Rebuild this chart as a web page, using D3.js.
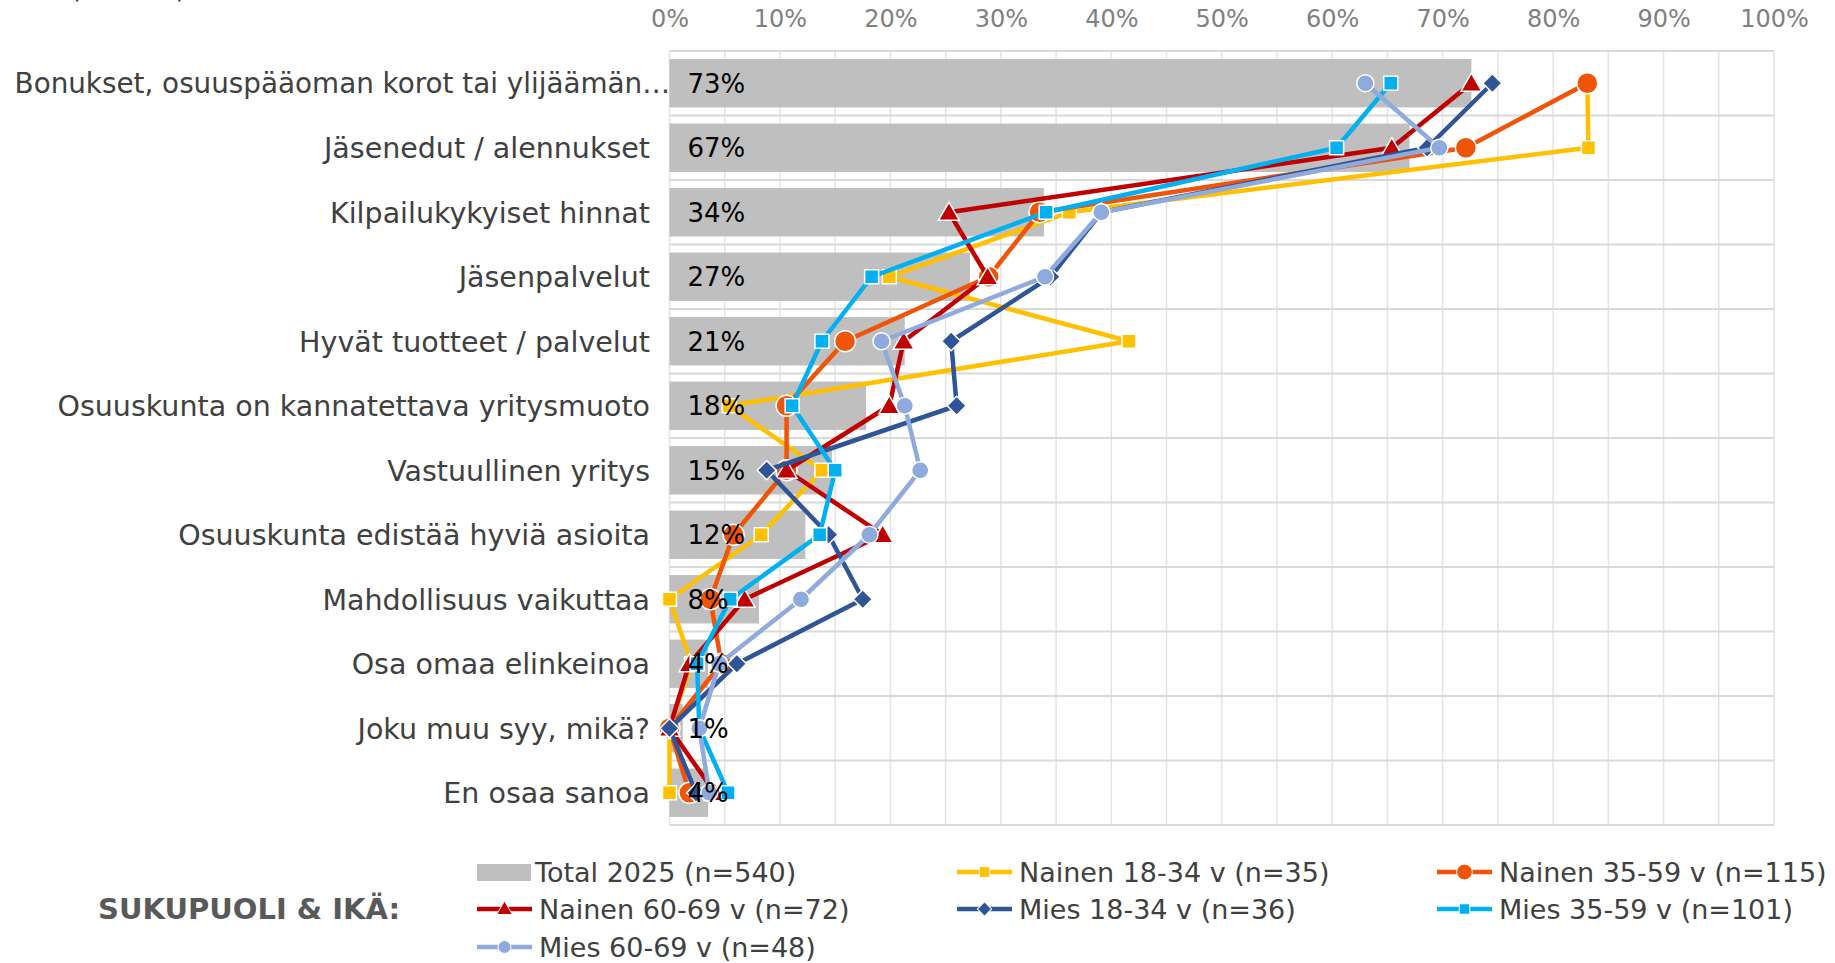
<!DOCTYPE html>
<html>
<head>
<meta charset="utf-8">
<script src="https://cdn.jsdelivr.net/npm/d3@7/dist/d3.min.js"></script>
<style>
body { margin: 0; background: #fff; }
svg { display: block; font-family: "DejaVu Sans", Verdana, sans-serif; }
</style>
</head>
<body>
<div id="chart"></div>
<script>
var categories = [
	"Bonukset, osuuspääoman korot tai ylijäämän…",
	"Jäsenedut / alennukset",
	"Kilpailukykyiset hinnat",
	"Jäsenpalvelut",
	"Hyvät tuotteet / palvelut",
	"Osuuskunta on kannatettava yritysmuoto",
	"Vastuullinen yritys",
	"Osuuskunta edistää hyviä asioita",
	"Mahdollisuus vaikuttaa",
	"Osa omaa elinkeinoa",
	"Joku muu syy, mikä?",
	"En osaa sanoa"
];
var total2025   = [72.6, 67.0, 33.9, 27.2, 21.3, 17.8, 14.7, 12.3, 8.1, 3.5, 1.2, 3.5];
var nainen1834  = [83.1, 83.2, 36.2, 19.9, 41.6, 5.4, 13.8, 8.3, 0, 2.0, 0, 0];
var nainen3559  = [83.1, 72.1, 33.5, 28.9, 15.9, 10.6, 10.6, 5.8, 3.7, 4.7, 0, 1.8];
var nainen6069  = [72.6, 65.4, 25.3, 28.8, 21.2, 19.9, 10.6, 19.3, 6.8, 1.8, 0, 4.1];
var mies1834    = [74.5, 68.6, 39.1, 34.5, 25.5, 26.0, 8.8, 14.4, 17.5, 6.1, 0, 2.4];
var mies3559    = [65.3, 60.4, 34.1, 18.3, 13.8, 11.1, 15.0, 13.6, 5.5, 2.5, 2.7, 5.3];
var mies6069    = [63.0, 69.7, 39.1, 34.0, 19.2, 21.3, 22.7, 18.1, 11.9, 4.5, 2.7, 3.6];
var xTicks = [0, 10, 20, 30, 40, 50, 60, 70, 80, 90, 100];
var totalName = "Total 2025 (n=540)";
var seriesNames = [
	"Nainen 18-34 v (n=35)",
	"Nainen 35-59 v (n=115)",
	"Nainen 60-69 v (n=72)",
	"Mies 18-34 v (n=36)",
	"Mies 35-59 v (n=101)",
	"Mies 60-69 v (n=48)"
];

var W = 1835, H = 963;
var plotLeft = 669.5, plotRight = 1774, plotTop = 51, plotBottom = 825;

var series = [
	{name: seriesNames[0], values: nainen1834, color: "#FFC000", shape: "square", size: 14},
	{name: seriesNames[1], values: nainen3559, color: "#F05408", shape: "circle", size: 10.5},
	{name: seriesNames[2], values: nainen6069, color: "#C00000", shape: "triangle", size: 21},
	{name: seriesNames[3], values: mies1834, color: "#2F5597", shape: "diamond", size: 13.5},
	{name: seriesNames[4], values: mies3559, color: "#00B0F0", shape: "square", size: 14},
	{name: seriesNames[5], values: mies6069, color: "#8FAADC", shape: "circle", size: 8.6}
];

var svg = d3.select("#chart").append("svg")
	.attr("width", W)
	.attr("height", H);

var x = d3.scaleLinear().domain([0, 100]).range([plotLeft, plotRight]);
var y = d3.scaleBand().domain(categories).range([plotTop, plotBottom])
	.paddingInner(0.25).paddingOuter(0.125);
var step = y.step();
function cy(c) { return y(c) + y.bandwidth() / 2; }

// cut off subtitle at the very top (only the bottoms show, as in the source)
svg.append("text")
	.attr("x", 70)
	.attr("y", -2)
	.style("font-size", "28px")
	.style("fill", "#404040")
	.text("(n=540)");

//vertical gridlines every 5 %
svg.append("g").selectAll("line")
	.data(d3.range(0, 101, 5))
	.enter().append("line")
	.attr("x1", function (d) { return x(d); })
	.attr("x2", function (d) { return x(d); })
	.attr("y1", plotTop)
	.attr("y2", plotBottom)
	.style("stroke", "#E3E3E3")
	.style("stroke-width", 1.5);

//horizontal gridlines between categories
svg.append("g").selectAll("line")
	.data(d3.range(0, categories.length + 1))
	.enter().append("line")
	.attr("x1", plotLeft)
	.attr("x2", plotRight)
	.attr("y1", function (i) { return plotTop + i * step; })
	.attr("y2", function (i) { return plotTop + i * step; })
	.style("stroke", "#D9D9D9")
	.style("stroke-width", 2);

//top axis
var xAxis = d3.axisTop(x)
	.tickValues(xTicks)
	.tickSize(0)
	.tickPadding(0)
	.tickFormat(function (d) { return d + "%"; });
var axisG = svg.append("g")
	.attr("transform", "translate(0,27)")
	.call(xAxis);
axisG.select(".domain").remove();
axisG.selectAll("text")
	.style("font-family", "DejaVu Sans, Verdana, sans-serif")
	.style("font-size", "24px")
	.style("fill", "#808080");

//category labels (the truncated one runs up to the bar)
svg.append("g").selectAll("text")
	.data(categories)
	.enter().append("text")
	.attr("x", function (d) { return d.slice(-1) == "…" ? 670 : 650; })
	.attr("y", function (d) { return cy(d); })
	.attr("dy", "0.36em")
	.attr("text-anchor", "end")
	.style("font-size", function (d) { return d.slice(-1) == "…" ? "27.8px" : "28.5px"; })
	.style("fill", "#404040")
	.text(function (d) { return d; });

//total bars
svg.append("g").selectAll("rect")
	.data(categories)
	.enter().append("rect")
	.attr("x", x(0))
	.attr("y", function (d) { return y(d); })
	.attr("width", function (d, i) { return x(total2025[i]) - x(0); })
	.attr("height", y.bandwidth())
	.style("fill", "#BFBFBF");

function markerPath(shape, size) {
	if (shape == "circle") return d3.symbol().type(d3.symbolCircle).size(Math.PI * size * size)();
	if (shape == "triangle") return d3.symbol().type(d3.symbolTriangle).size(Math.sqrt(3) / 4 * size * size)();
	return d3.symbol().type(d3.symbolSquare).size(size * size)();
}

var line = d3.line()
	.x(function (d) { return x(d.v); })
	.y(function (d) { return cy(d.c); });

//lines and markers, later series drawn on top
series.forEach(function (s) {
	var pts = s.values.map(function (v, i) { return {c: categories[i], v: v}; });
	var g = svg.append("g");
	g.append("path")
		.datum(pts)
		.attr("d", line)
		.style("fill", "none")
		.style("stroke", s.color)
		.style("stroke-width", 4.5)
		.style("stroke-linejoin", "round");
	g.selectAll("path.mark")
		.data(pts)
		.enter().append("path")
		.attr("class", "mark")
		.attr("d", markerPath(s.shape, s.size))
		.attr("transform", function (d) {
			return "translate(" + x(d.v) + "," + (cy(d.c) + (s.shape == "triangle" ? 2 : 0)) + ")" +
				(s.shape == "diamond" ? " rotate(45)" : "");
		})
		.style("fill", s.color)
		.style("stroke", "#fff")
		.style("stroke-width", 1.5);
});

//bar value labels
svg.append("g").selectAll("text")
	.data(categories)
	.enter().append("text")
	.attr("x", x(0) + 18)
	.attr("y", function (d) { return cy(d); })
	.attr("dy", "0.36em")
	.style("font-size", "26px")
	.style("fill", "#000")
	.text(function (d, i) { return Math.round(total2025[i]) + "%"; });

//legend
svg.append("text")
	.attr("x", 98)
	.attr("y", 919)
	.style("font-size", "29px")
	.style("font-weight", "bold")
	.style("fill", "#595959")
	.text("SUKUPUOLI & IKÄ:");

var legendCols = [477, 957, 1437];
var legendRows = [872, 909, 947];
var legendItems = [{name: totalName, bar: true}].concat(series);

legendItems.forEach(function (item, i) {
	var lx = legendCols[i % 3], ly = legendRows[Math.floor(i / 3)];
	var lg = svg.append("g").attr("transform", "translate(" + lx + "," + ly + ")");
	if (item.bar) {
		lg.append("rect")
			.attr("x", 0).attr("y", -8)
			.attr("width", 54).attr("height", 17)
			.style("fill", "#BFBFBF");
	} else {
		lg.append("line")
			.attr("x1", 0).attr("x2", 55)
			.attr("y1", 0).attr("y2", 0)
			.style("stroke", item.color)
			.style("stroke-width", 4.5);
		lg.append("path")
			.attr("d", markerPath(item.shape, item.size * 0.75))
			.attr("transform", "translate(27.5," + (item.shape == "triangle" ? 1 : 0) + ")" + (item.shape == "diamond" ? " rotate(45)" : ""))
			.style("fill", item.color)
			.style("stroke", "#fff")
			.style("stroke-width", 1);
	}
	lg.append("text")
		.attr("x", item.bar ? 58 : 62)
		.attr("y", 0)
		.attr("dy", "0.36em")
		.style("font-size", "27px")
		.style("fill", "#404040")
		.text(item.name);
});
</script>
</body>
</html>
